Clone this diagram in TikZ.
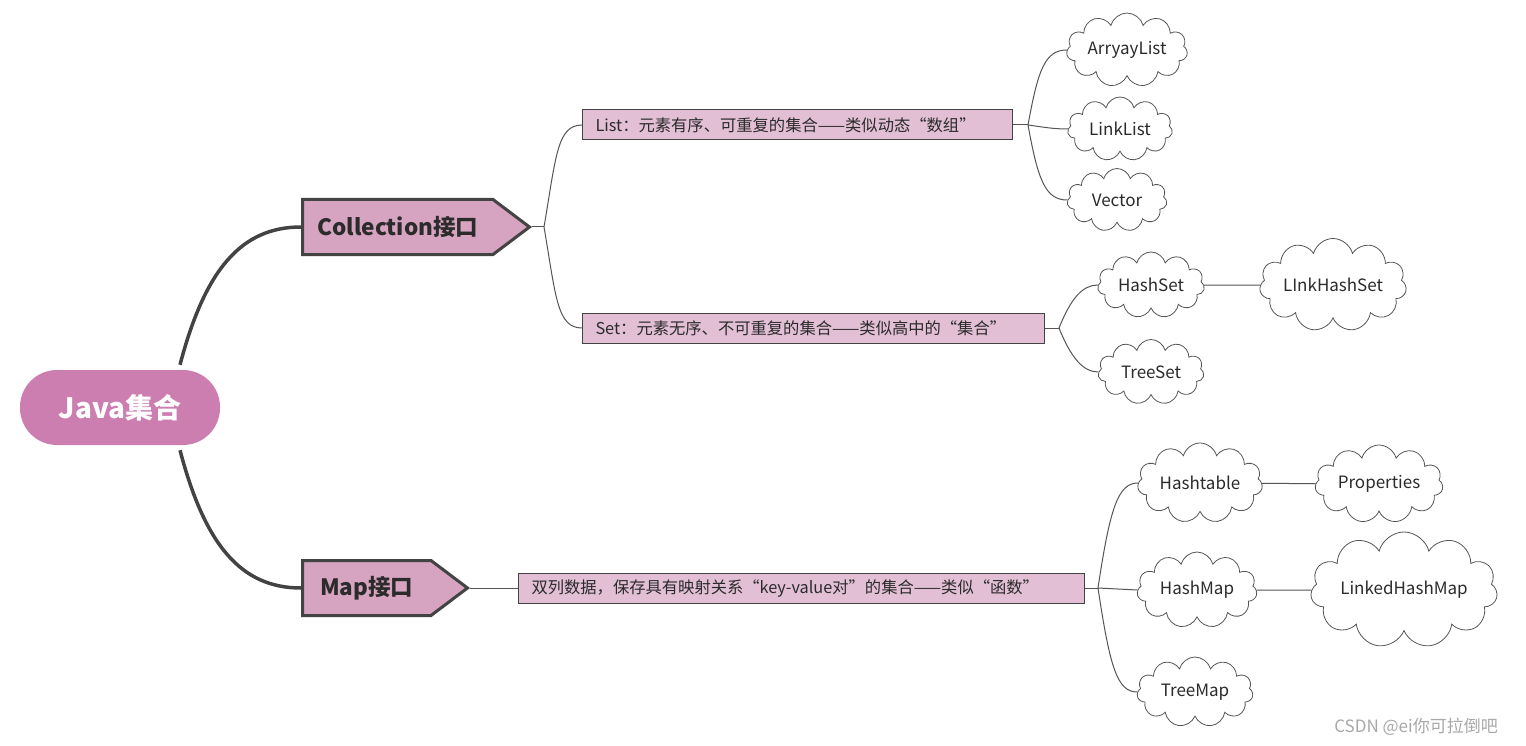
\documentclass[tikz,border=0pt]{standalone}
\usepackage{fontspec}
\setmainfont{Noto Sans CJK SC}
\usetikzlibrary{shapes.symbols,shapes.misc,positioning,calc}

\definecolor{rootpink}{HTML}{CB7EAF}
\definecolor{ifacepink}{HTML}{D6A3C1}
\definecolor{descpink}{HTML}{E2BFD5}
\definecolor{linegray}{HTML}{434343}
\definecolor{linkgray}{HTML}{555555}
\definecolor{textgray}{HTML}{2B2B2B}
\definecolor{wmgray}{HTML}{A8A8A8}

\tikzset{
  rootnode/.style={rectangle, rounded corners=37pt, fill=rootpink, text=white,
    minimum width=200pt, minimum height=75pt, inner sep=0pt,
    font=\fontsize{28}{32}\selectfont\bfseries},
  iface/.style={signal, signal to=east, signal pointer angle=74, draw=linegray,
    line width=3pt, fill=ifacepink, text=textgray, minimum height=55pt, inner sep=0pt,
    anchor=west, font=\fontsize{22.5}{26}\selectfont\bfseries},
  descbox/.style={rectangle, draw=linegray, line width=1pt, fill=descpink, text=textgray,
    minimum height=30pt, inner xsep=13pt, inner ysep=0pt, align=left, anchor=west,
    font=\fontsize{16.3}{18}\selectfont},
  leaf/.style={cloud, cloud puffs=11, cloud ignores aspect, draw=linkgray, line width=.8pt,
    fill=white, text=textgray, inner sep=0pt, font=\fontsize{17}{19}\selectfont},
  thick link/.style={line width=3.5pt, draw=linegray},
  thin link/.style={line width=1pt, draw=linkgray}
}

\begin{document}
\begin{tikzpicture}[x=1pt, y=-1pt]
\fill[white] (0,0) rectangle (1526,746);
\useasboundingbox (0,0) rectangle (1526,746);

% root and the two interfaces
\node[rootnode] (root) at (120,407.5) {Java集合};
\node[iface, minimum width=227pt] (coll) at (301,227) {Collection接口};
\node[iface, minimum width=165pt] (map) at (301,588) {Map接口};

\draw[thick link] ([xshift=60pt,yshift=5pt]root.north) .. controls +(25,-95) and +(-60,0) .. (coll.west);
\draw[thick link] ([xshift=60pt,yshift=-5pt]root.south) .. controls +(25,95) and +(-60,0) .. (map.west);

% descriptions
\node[descbox, text width=404pt] (list) at (582,125) {List：元素有序、可重复的集合——类似动态“数组”};
\node[descbox, text width=436pt] (set) at (582,328) {Set：元素无序、不可重复的集合——类似高中的“集合”};
\node[descbox, text width=540pt] (mapd) at (518,588) {双列数据，保存具有映射关系“key-value对”的集合——类似“函数”};

\coordinate (cb) at ([xshift=12pt]coll.east);
\draw[thin link] (coll.east) -- (cb);
\draw[thin link] (cb) .. controls +(12,-70) and +(-25,0) .. (list.west);
\draw[thin link] (cb) .. controls +(12,70) and +(-25,0) .. (set.west);
\draw[thin link] (map.east) -- (mapd.west);

% List
\node[leaf, minimum width=121pt, minimum height=74pt] (al) at (1127,50) {ArryayList};
\node[leaf, minimum width=105pt, minimum height=64pt] (ll) at (1120,129) {LinkList};
\node[leaf, minimum width=100pt, minimum height=63pt] (vec) at (1117,200) {Vector};

\coordinate (lb) at ([xshift=15pt]list.east);
\draw[thin link] (list.east) -- (lb);
\draw[thin link] (lb) .. controls +(10,-55) and +(-22,0) .. (al.west);
\draw[thin link] (lb) .. controls +(15,2) and +(-15,0) .. (ll.west);
\draw[thin link] (lb) .. controls +(10,55) and +(-22,0) .. (vec.west);

% Set
\node[leaf, minimum width=107pt, minimum height=66pt] (hs) at (1151,285) {HashSet};
\node[leaf, minimum width=147pt, minimum height=93pt] (lhs) at (1333,285) {LInkHashSet};
\node[leaf, minimum width=106pt, minimum height=65pt] (ts) at (1151,372) {TreeSet};

\coordinate (sb) at ([xshift=14pt]set.east);
\draw[thin link] (set.east) -- (sb);
\draw[thin link] (sb) .. controls +(12,-30) and +(-15,0) .. (hs.west);
\draw[thin link] (sb) .. controls +(12,30) and +(-15,0) .. (ts.west);
\draw[thin link] (hs) -- (lhs);

% Map
\node[leaf, minimum width=125pt, minimum height=80pt] (ht) at (1200,483) {Hashtable};
\node[leaf, minimum width=128pt, minimum height=78pt] (prop) at (1379,484) {Properties};
\node[leaf, minimum width=120pt, minimum height=76pt] (hm) at (1197,590) {HashMap};
\node[leaf, minimum width=187pt, minimum height=116pt] (lhm) at (1404,590) {LinkedHashMap};
\node[leaf, minimum width=116pt, minimum height=70pt] (tm) at (1195,692) {TreeMap};

\coordinate (mb) at ([xshift=13pt]mapd.east);
\draw[thin link] (mapd.east) -- (mb);
\draw[thin link] (mb) .. controls +(12,-80) and +(-20,0) .. (ht.west);
\draw[thin link] (mb) -- (hm.west);
\draw[thin link] (mb) .. controls +(12,80) and +(-20,0) .. (tm.west);
\draw[thin link] (ht) -- (prop);
\draw[thin link] (hm) -- (lhm);

\node[text=wmgray, font=\fontsize{17}{20}\selectfont] (wm) at (1416,727) {CSDN @ei你可拉倒吧};
\end{tikzpicture}
\end{document}
